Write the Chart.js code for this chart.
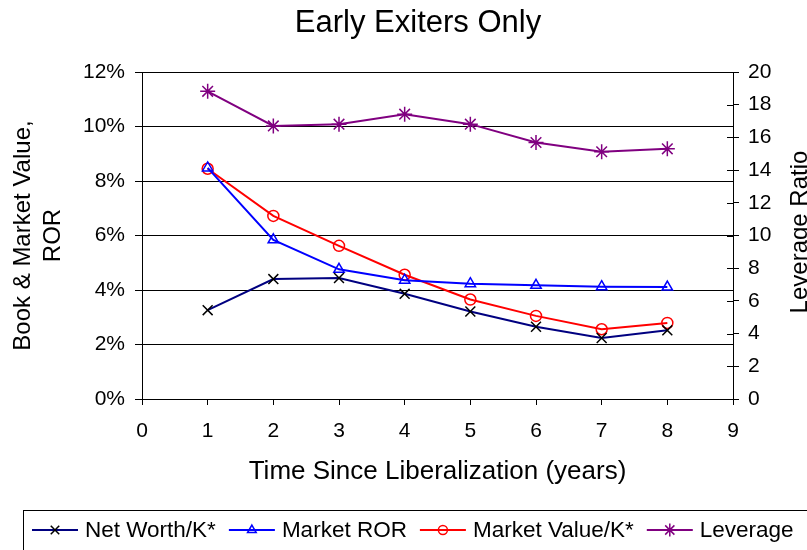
<!DOCTYPE html>
<html>
<head>
<meta charset="utf-8">
<script src="https://cdn.jsdelivr.net/npm/chart.js@4.4.1/dist/chart.umd.min.js"></script>
<style>
  html, body { margin: 0; padding: 0; background: #fff; overflow: hidden; }
  #wrap { width: 807px; height: 550px; }
</style>
</head>
<body>
<div id="wrap"><canvas id="grafica" width="807" height="550"></canvas></div>
<script>
// Datos (años desde la liberalización)
const years = [1, 2, 3, 4, 5, 6, 7, 8];
const netWorth = [3.26, 4.40, 4.44, 3.86, 3.21, 2.65, 2.24, 2.52];      // %
const marketROR = [8.48, 5.84, 4.76, 4.36, 4.23, 4.17, 4.12, 4.11];     // %
const marketValue = [8.45, 6.72, 5.62, 4.56, 3.65, 3.05, 2.56, 2.79];   // %
const leverage = [18.82, 16.70, 16.81, 17.42, 16.81, 15.69, 15.12, 15.30];

const xTicks = [0, 1, 2, 3, 4, 5, 6, 7, 8, 9];
const leftTicks = [0, 2, 4, 6, 8, 10, 12];
const rightTicks = [0, 2, 4, 6, 8, 10, 12, 14, 16, 18, 20];

const FONT = "'Liberation Sans', Arial, sans-serif";
Chart.defaults.font.family = FONT;
Chart.defaults.color = '#000';

const toPoints = arr => arr.map((v, i) => ({ x: years[i], y: v }));

// Título, título del eje derecho, marcas interiores y leyenda
const decor = {
  id: 'decor',
  afterDraw(chart) {
    const ctx = chart.ctx;
    ctx.save();

    // Título
    ctx.fillStyle = '#000';
    ctx.font = '31px ' + FONT;
    ctx.textAlign = 'center';
    ctx.textBaseline = 'middle';
    ctx.fillText('Early Exiters Only', 418, 23);

    // Título del eje derecho (se corta en el borde como en el original)
    ctx.save();
    ctx.translate(800, 232);
    ctx.rotate(-Math.PI / 2);
    ctx.font = '24px ' + FONT;
    ctx.fillText('Leverage Ratio', 0, 0);
    ctx.restore();

    // Marcas interiores del eje derecho
    const s = chart.scales.y2;
    ctx.strokeStyle = '#000';
    ctx.lineWidth = 1;
    rightTicks.forEach(v => {
      const y = Math.round(s.getPixelForValue(v)) + 0.5;
      ctx.beginPath();
      ctx.moveTo(s.left - 6, y);
      ctx.lineTo(s.left, y);
      ctx.stroke();
    });

    // Leyenda
    ctx.strokeStyle = '#000';
    ctx.lineWidth = 1;
    ctx.strokeRect(23.5, 510.5, 900, 100);
    ctx.font = '22.5px ' + FONT;
    ctx.textAlign = 'left';
    ctx.textBaseline = 'alphabetic';
    let x = 32;
    const ly = 530;
    chart.data.datasets.forEach(ds => {
      ctx.strokeStyle = ds.borderColor;
      ctx.lineWidth = 2;
      ctx.beginPath();
      ctx.moveTo(x, ly);
      ctx.lineTo(x + 46, ly);
      ctx.stroke();
      ctx.strokeStyle = ds.pointBorderColor;
      ctx.fillStyle = 'rgba(0,0,0,0)';
      ctx.lineWidth = 1.5;
      Chart.helpers.drawPoint(ctx, {
        pointStyle: ds.pointStyle, radius: ds.pointRadius - 1, borderWidth: 1.5, rotation: 0
      }, x + 23, ly);
      ctx.fillStyle = '#000';
      ctx.fillText(ds.label, x + 53, 537);
      x = x + 53 + ctx.measureText(ds.label).width + 13;
    });

    ctx.restore();
  }
};

const ctxCanvas = document.getElementById('grafica');

new Chart(ctxCanvas, {
  type: 'line',
  data: {
    datasets: [
      {
        label: 'Net Worth/K*',
        data: toPoints(netWorth),
        yAxisID: 'y',
        borderColor: '#000080',
        borderWidth: 2,
        pointStyle: 'crossRot',
        pointRadius: 7,
        pointBorderColor: '#000000',
        pointBackgroundColor: 'rgba(0,0,0,0)',
        pointBorderWidth: 1.5
      },
      {
        label: 'Market ROR',
        data: toPoints(marketROR),
        yAxisID: 'y',
        borderColor: '#0000FF',
        borderWidth: 2,
        pointStyle: 'triangle',
        pointRadius: 6,
        pointBorderColor: '#0000FF',
        pointBackgroundColor: 'rgba(0,0,0,0)',
        pointBorderWidth: 1.5
      },
      {
        label: 'Market Value/K*',
        data: toPoints(marketValue),
        yAxisID: 'y',
        borderColor: '#FF0000',
        borderWidth: 2,
        pointStyle: 'circle',
        pointRadius: 5.5,
        pointBorderColor: '#FF0000',
        pointBackgroundColor: 'rgba(0,0,0,0)',
        pointBorderWidth: 1.5
      },
      {
        label: 'Leverage',
        data: toPoints(leverage),
        yAxisID: 'y2',
        borderColor: '#800080',
        borderWidth: 2,
        pointStyle: 'star',
        pointRadius: 7.5,
        pointBorderColor: '#800080',
        pointBackgroundColor: 'rgba(0,0,0,0)',
        pointBorderWidth: 1.5
      }
    ]
  },
  options: {
    responsive: false,
    animation: false,
    devicePixelRatio: 1,
    layout: { padding: { top: 72, bottom: 60, left: 0, right: 0 } },
    elements: { line: { tension: 0 } },
    plugins: {
      legend: { display: false },
      title: { display: false },
      tooltip: { enabled: false }
    },
    scales: {
      x: {
        type: 'linear',
        min: 0,
        max: 9,
        afterBuildTicks: s => { s.ticks = xTicks.map(v => ({ value: v })); },
        afterFit: s => { s.height = 91; },
        grid: { drawOnChartArea: false, tickLength: 6, color: '#000', lineWidth: 1 },
        border: { color: '#000', width: 1 },
        ticks: { color: '#000', font: { size: 21 }, padding: 14, maxRotation: 0 },
        title: {
          display: true,
          text: 'Time Since Liberalization (years)',
          color: '#000',
          font: { size: 26, lineHeight: 1.2 },
          padding: { top: 0, bottom: 3 }
        }
      },
      y: {
        position: 'left',
        min: 0,
        max: 12,
        afterBuildTicks: s => { s.ticks = leftTicks.map(v => ({ value: v })); },
        afterFit: s => { s.width = 142; },
        grid: { color: '#000', lineWidth: 1, tickLength: 7 },
        border: { color: '#000', width: 1 },
        ticks: { color: '#000', font: { size: 21 }, padding: 10, callback: v => v + '%' },
        title: {
          display: true,
          text: ['Book & Market Value,', 'ROR'],
          color: '#000',
          font: { size: 24, lineHeight: 1.25 },
          padding: { top: 8, bottom: 0 }
        }
      },
      y2: {
        position: 'right',
        min: 0,
        max: 20,
        afterBuildTicks: s => { s.ticks = rightTicks.map(v => ({ value: v })); },
        afterFit: s => { s.width = 74; },
        grid: { drawOnChartArea: false, tickLength: 6, color: '#000', lineWidth: 1 },
        border: { color: '#000', width: 1 },
        ticks: { color: '#000', font: { size: 21 }, padding: 9 }
      }
    }
  },
  plugins: [decor]
});
</script>
</body>
</html>
